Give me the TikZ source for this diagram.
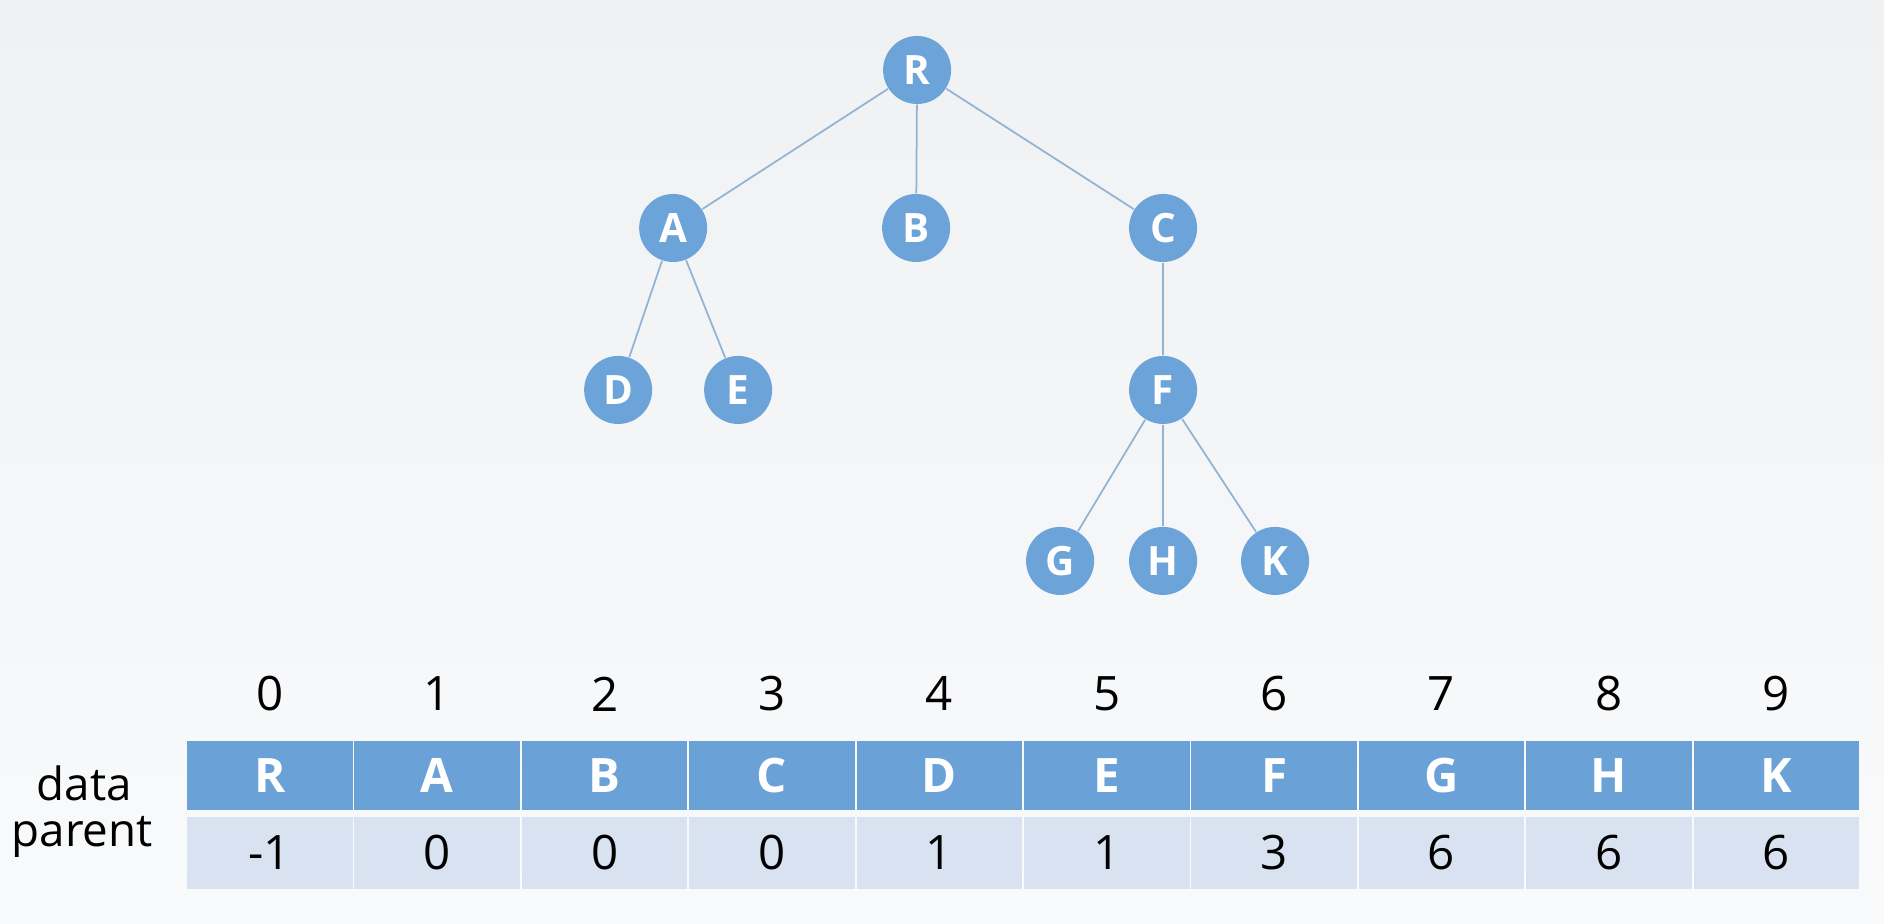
\documentclass[tikz,border=0pt]{standalone}
\usepackage{fontspec}
\setmainfont{Open Sans}
\usetikzlibrary{positioning}
\definecolor{NodeBlue}{RGB}{108,164,218}
\definecolor{CellBlue}{RGB}{106,162,215}
\definecolor{CellPale}{RGB}{216,226,240}
\definecolor{EdgeBlue}{RGB}{145,180,214}
\definecolor{BgTop}{RGB}{240,241,242}
\definecolor{BgBot}{RGB}{249,250,251}

\begin{document}
\begin{tikzpicture}[x=0.01cm, y=-0.01cm,
  vert/.style  ={circle, fill=NodeBlue, minimum size=0.68cm, inner sep=0pt,
                 text=white, font=\fontsize{11.5}{13}\selectfont\bfseries},
  edge/.style  ={draw=EdgeBlue, line width=0.5pt},
  head/.style  ={rectangle, fill=CellBlue, minimum width=1.655cm,
                 minimum height=0.69cm, inner sep=0pt, text=white,
                 font=\fontsize{13.5}{15}\selectfont\bfseries},
  par/.style   ={rectangle, fill=CellPale, minimum width=1.655cm,
                 minimum height=0.72cm, inner sep=0pt,
                 font=\fontsize{13.5}{15}\selectfont},
  idx/.style   ={font=\fontsize{13.5}{15}\selectfont},
  rowlab/.style={font=\fontsize{13}{15}\selectfont}
]
\shade[top color=BgTop, bottom color=BgBot] (0,0) rectangle (1884,924);

% tree
\node[vert] (R) at (917,70)   {R};
\node[vert] (A) at (673,228)  {A};
\node[vert] (B) at (916,228)  {B};
\node[vert] (C) at (1163,228) {C};
\node[vert] (D) at (618,390)  {D};
\node[vert] (E) at (738,390)  {E};
\node[vert] (F) at (1163,390) {F};
\node[vert] (G) at (1060,561) {G};
\node[vert] (H) at (1163,561) {H};
\node[vert] (K) at (1275,561) {K};

\draw[edge] (R) -- (A);
\draw[edge] (R) -- (B);
\draw[edge] (R) -- (C);
\draw[edge] (A) -- (D);
\draw[edge] (A) -- (E);
\draw[edge] (C) -- (F);
\draw[edge] (F) -- (G);
\draw[edge] (F) -- (H);
\draw[edge] (F) -- (K);

% parent array
\foreach \d/\p [count=\i from 0] in {R/-1,A/0,B/0,C/0,D/1,E/1,F/3,G/6,H/6,K/6}{
  \node[idx]  (i\i) at (269.7+167.4*\i, 694)   {\i};
  \node[head] (d\i) at (269.7+167.4*\i, 775.5) {\d};
  \node[par]  (p\i) at (269.7+167.4*\i, 853)   {\p};
}
\node[rowlab] (datalab) at (84,783) {data};
\node[rowlab] (parlab)  at (82,837) {parent};
\end{tikzpicture}
\end{document}
